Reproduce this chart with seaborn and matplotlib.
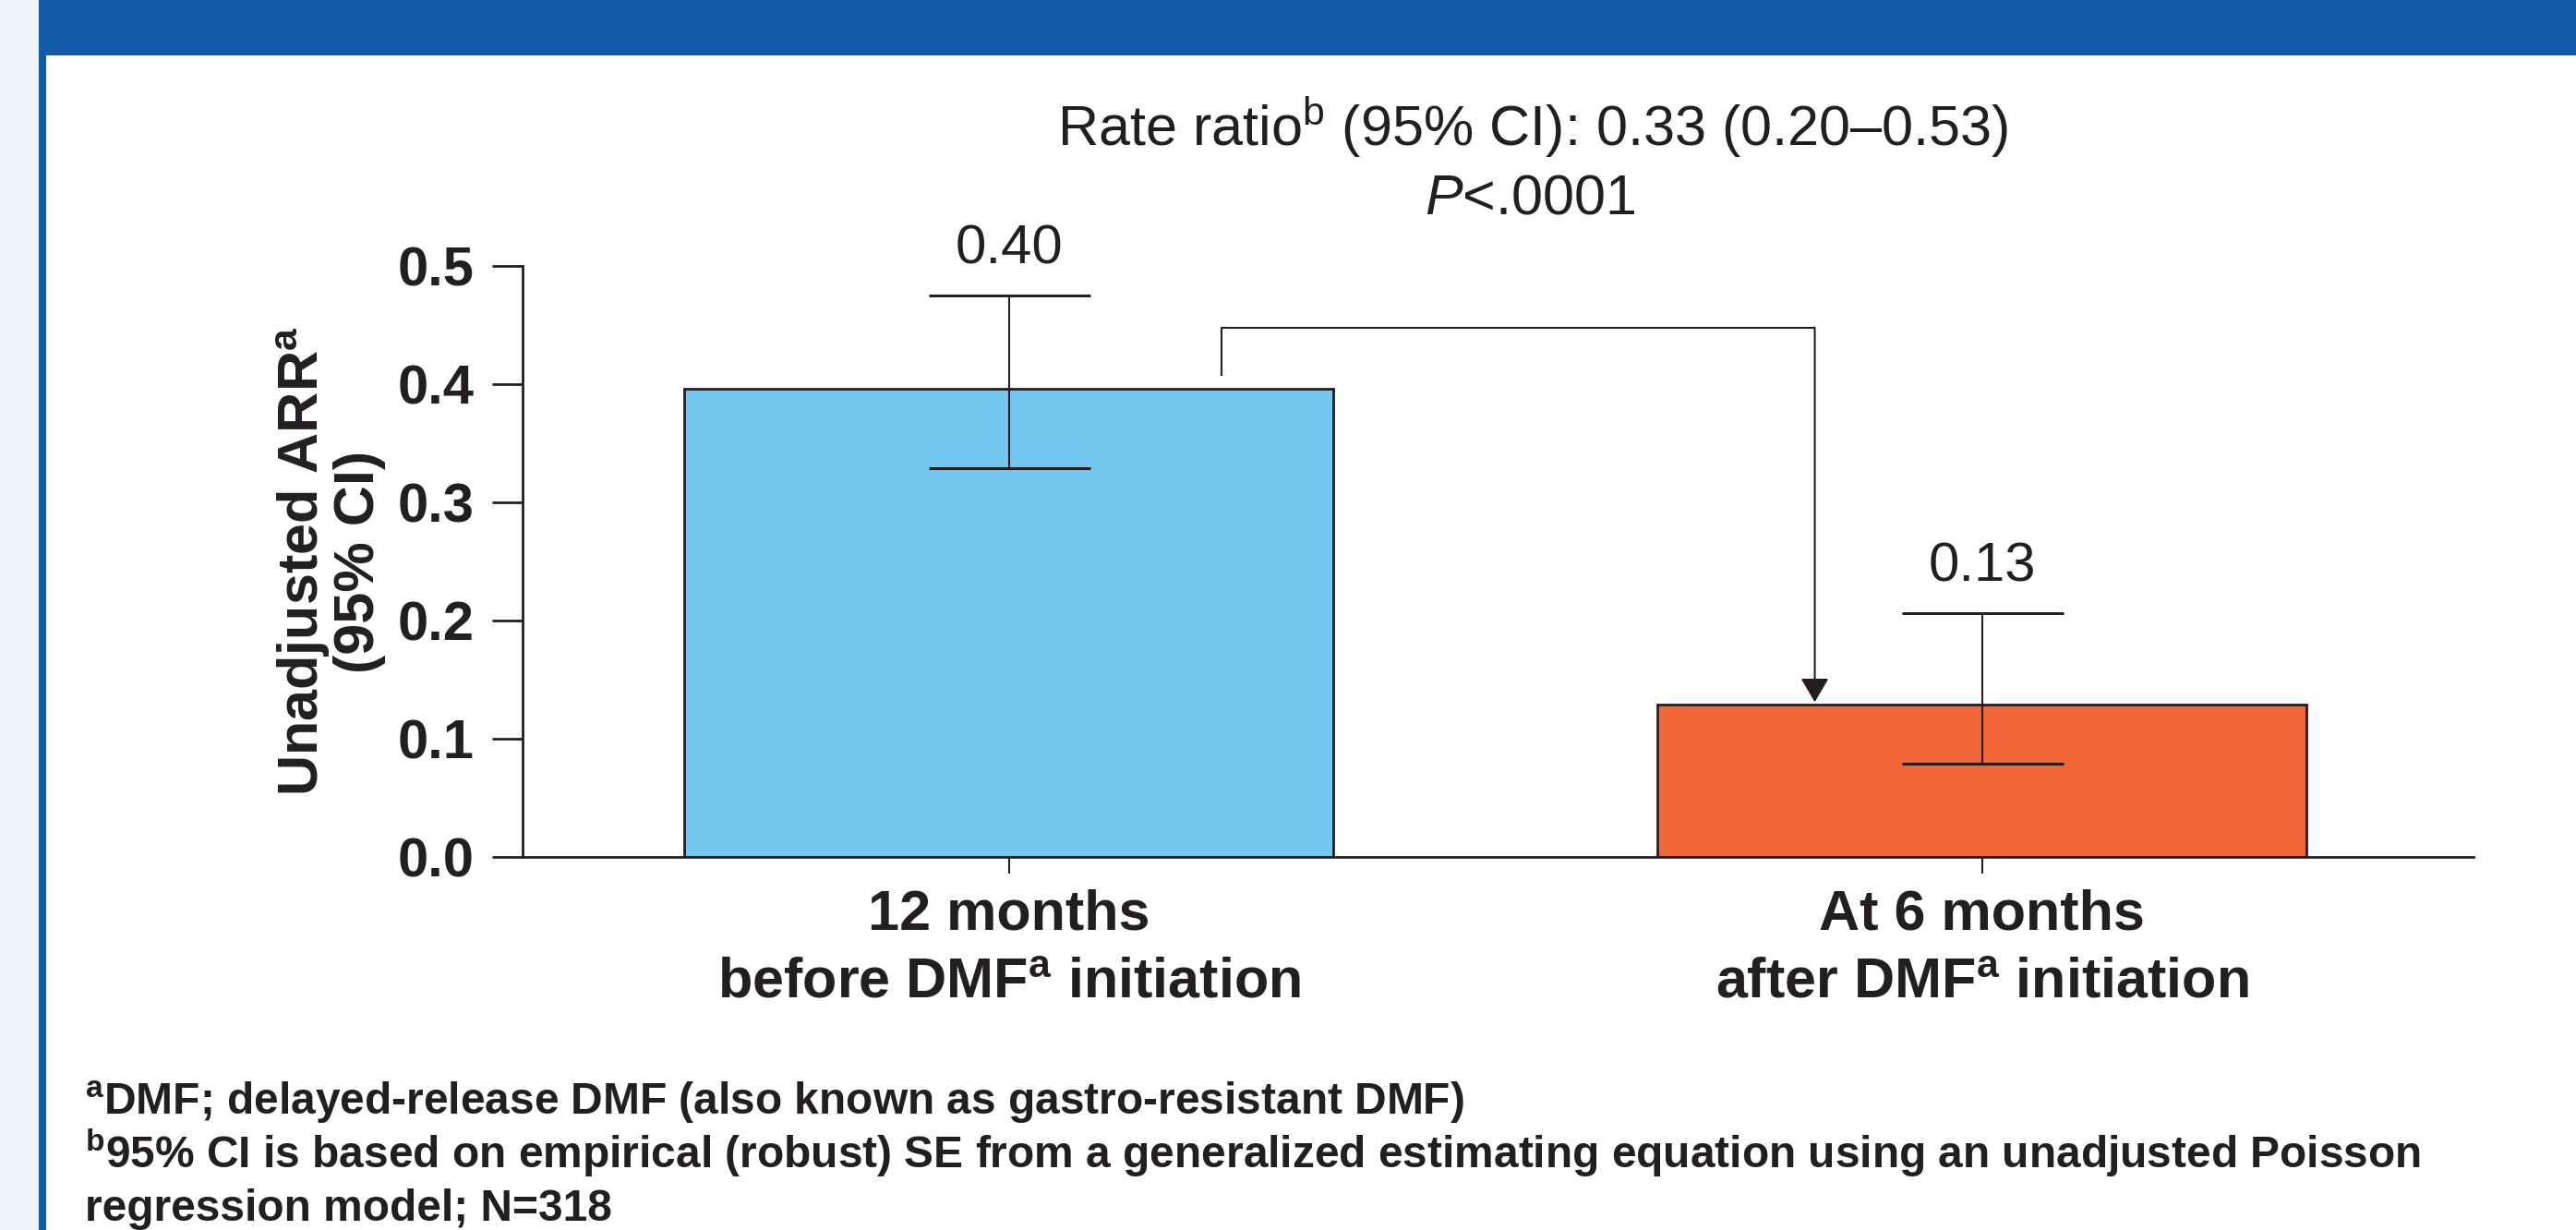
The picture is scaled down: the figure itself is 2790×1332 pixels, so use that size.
import numpy as np
import matplotlib
matplotlib.use("Agg")
import matplotlib.pyplot as plt
from matplotlib.patches import Rectangle
import seaborn as sns


# -----------------------------
# DATA
# -----------------------------
periods = ["12 months\nbefore DMF$^{\\mathbf{a}}$ initiation",
           "At 6 months\nafter DMF$^{\\mathbf{a}}$ initiation"]
arr = np.array([0.396, 0.129])
ci_low = np.array([0.329, 0.079])
ci_high = np.array([0.475, 0.206])
bar_labels = ["0.40", "0.13"]
yticks = [0.0, 0.1, 0.2, 0.3, 0.4, 0.5]

rate_ratio_text = "Rate ratio$^{\\mathrm{b}}$ (95% CI): 0.33 (0.20\u20130.53)"
p_text = "$\\mathit{P}$<.0001"
ylabel_text = "Unadjusted ARR$^{\\mathbf{a}}$\n(95% CI)"
footnotes = [
    "$^{\\mathbf{a}}$DMF; delayed-release DMF (also known as gastro-resistant DMF)",
    "$^{\\mathbf{b}}$95% CI is based on empirical (robust) SE from a generalized "
    "estimating equation using an unadjusted Poisson",
    "regression model; N=318",
]

# -----------------------------
# STYLE
# -----------------------------
ink = "#231F20"
bar_colors = ["#73C6F0", "#F26638"]
banner_blue = "#135BA8"
side_grey = "#EEF2FA"

sns.set_theme(style="white")
plt.rcParams["font.family"] = ["Liberation Sans", "DejaVu Sans"]
plt.rcParams["mathtext.fontset"] = "custom"
plt.rcParams["mathtext.rm"] = "Liberation Sans"
plt.rcParams["mathtext.it"] = "Liberation Sans:italic"
plt.rcParams["mathtext.bf"] = "Liberation Sans:bold"
plt.rcParams["text.color"] = ink
plt.rcParams["axes.labelcolor"] = ink
plt.rcParams["xtick.color"] = ink
plt.rcParams["ytick.color"] = ink

W, H = 2790, 1332
fig = plt.figure(figsize=(W / 100, H / 100), dpi=100)
fig.patch.set_facecolor("white")

# frame decoration: grey strip, blue rule, blue banner
fig.add_artist(Rectangle((0, 0), 42 / W, 1, transform=fig.transFigure,
                         color=side_grey, lw=0, zorder=0))
fig.add_artist(Rectangle((42 / W, 0), 8 / W, 1, transform=fig.transFigure,
                         color=banner_blue, lw=0, zorder=0))
fig.add_artist(Rectangle((42 / W, 1 - 60 / H), 1, 60 / H, transform=fig.transFigure,
                         color=banner_blue, lw=0, zorder=0))

# -----------------------------
# BARS + CI
# -----------------------------
ax = fig.add_axes([566 / W, 1 - 928 / H, (2679 - 566) / W, (928 - 288) / H])
ax.patch.set_alpha(0)

sns.barplot(x=periods, y=arr, hue=periods, palette=bar_colors, saturation=1,
            width=0.667, edgecolor=ink, linewidth=2, errorbar=None,
            legend=False, ax=ax)

xpos = np.arange(len(arr))
ax.errorbar(xpos, arr, yerr=[arr - ci_low, ci_high - arr], fmt="none",
            ecolor=ink, elinewidth=1.5, capsize=63, capthick=2.2, zorder=3)

for i, lbl in enumerate(bar_labels):
    ax.annotate(lbl, (xpos[i], ci_high[i]), xytext=(0, 25),
                textcoords="offset points", ha="center", va="baseline",
                fontsize=43, annotation_clip=False)

# bracket with arrow from bar 1 to bar 2
bx0, bx1 = xpos[0] + 0.218, xpos[1] - 0.172
by0, btop, btip = arr[0] + 0.011, arr[0] + 0.052, arr[1] + 0.002
ax.plot([bx0, bx0, bx1], [by0, btop, btop], color=ink, lw=1.5,
        solid_joinstyle="miter", solid_capstyle="butt")
ax.annotate("", xy=(bx1, btip), xytext=(bx1, btop),
            arrowprops=dict(arrowstyle="-|>,head_length=0.8,head_width=0.47",
                            mutation_scale=20, lw=1.5, color=ink,
                            shrinkA=0, shrinkB=0))

# -----------------------------
# AXES
# -----------------------------
ax.set_xlim(-0.5, 1.505)
ax.set_ylim(0, 0.5)
ax.set_yticks(yticks)
ax.set_yticklabels([f"{v:.1f}" for v in yticks])
ax.tick_params(axis="y", length=24, width=2, pad=14, labelsize=43, direction="out", left=True)
ax.tick_params(axis="x", length=13, width=1.5, pad=12, labelsize=44, direction="out", bottom=True)
for t in ax.get_xticklabels() + ax.get_yticklabels():
    t.set_fontweight("bold")
for t in ax.get_xticklabels():
    t.set_linespacing(1.38)

sns.despine(ax=ax)
for side in ["left", "bottom"]:
    ax.spines[side].set_linewidth(2)
    ax.spines[side].set_color(ink)

ax.set_ylabel(ylabel_text, fontsize=44, fontweight="bold", linespacing=1.03)
ax.yaxis.set_label_coords(-0.070, 0.5)
ax.set_xlabel("")

# -----------------------------
# HEADER TEXT + FOOTNOTES
# -----------------------------
fig.text(1660 / W, 1 - 158 / H, rate_ratio_text, ha="center", va="baseline", fontsize=44)
fig.text(1657 / W, 1 - 232 / H, p_text, ha="center", va="baseline", fontsize=44)

for txt, base in zip(footnotes, [1207, 1265, 1322]):
    fig.text(92 / W, 1 - base / H, txt, ha="left", va="baseline",
             fontsize=34.5, fontweight="bold")

fig.savefig("out.png", dpi=100)
